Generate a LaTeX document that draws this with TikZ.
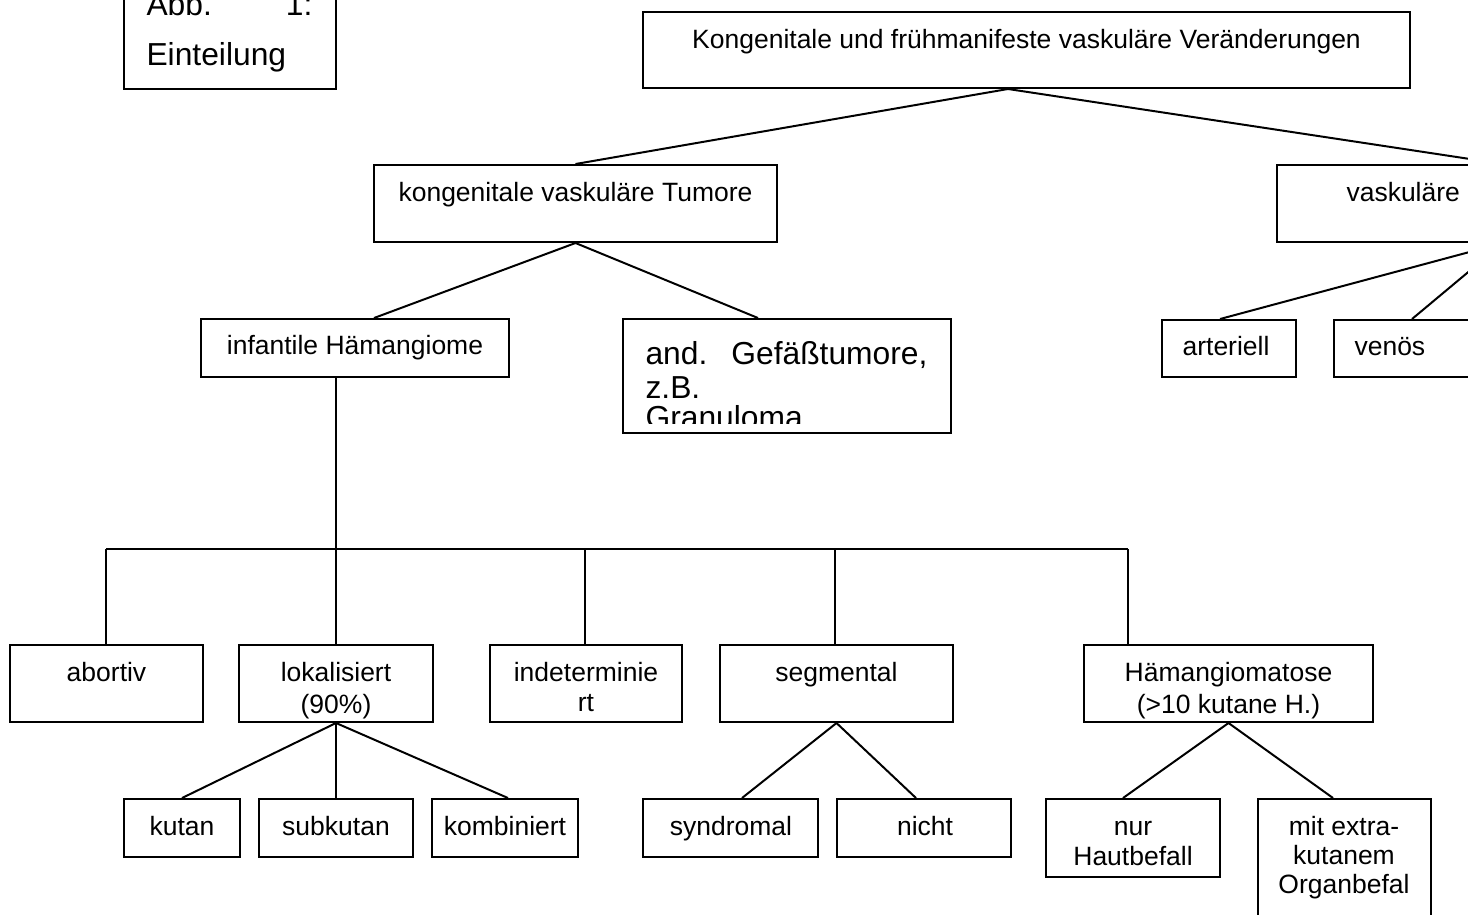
\documentclass[tikz,border=0pt]{standalone}
\usepackage{fontspec}
\setmainfont{Liberation Sans}
\usetikzlibrary{fit}
\newcommand\smf{\fontsize{10}{12}\selectfont}
\newcommand\bigf{\fontsize{12}{14}\selectfont}
\tikzset{
  box/.style={draw, line width=0.75pt, inner sep=0pt, rectangle},
  conn/.style={line width=0.75pt},
  txt/.style={inner sep=0pt, anchor=base, font=\smf},
  txtl/.style={inner sep=0pt, anchor=base west, font=\smf},
  btxtl/.style={inner sep=0pt, anchor=base west, font=\bigf},
  btxtr/.style={inner sep=0pt, anchor=base east, font=\bigf},
}
\begin{document}
\begin{tikzpicture}[x=0.3775pt, y=-0.3775pt]
\useasboundingbox (0,0) rectangle (1468,914);
\clip (0,0) rectangle (1468,914);
\fill[white] (0,0) rectangle (1468,914);

% boxes
\node[box, fit={(124,-10) (336,89)}] (abb) {};
\node[box, fit={(643,12) (1410,88)}] (top) {};
\node[box, fit={(374,165) (777,242)}] (kvt) {};
\node[box, fit={(1277,165) (1729,242)}] (vask) {};
\node[box, fit={(201,319) (509,377)}] (inf) {};
\node[box, fit={(623,319) (951,433)}] (and) {};
\node[box, fit={(1162,320) (1296,377)}] (art) {};
\node[box, fit={(1334,320) (1490,377)}] (ven) {};
\node[box, fit={(10,645) (203,722)}] (abo) {};
\node[box, fit={(239,645) (433,722)}] (lok) {};
\node[box, fit={(490,645) (682,722)}] (ind) {};
\node[box, fit={(720,645) (953,722)}] (seg) {};
\node[box, fit={(1084,645) (1373,722)}] (ham) {};
\node[box, fit={(124,799) (240,857)}] (kut) {};
\node[box, fit={(259,799) (413,857)}] (sub) {};
\node[box, fit={(432,799) (578,857)}] (kom) {};
\node[box, fit={(643,799) (818,857)}] (syn) {};
\node[box, fit={(837,799) (1011,857)}] (nic) {};
\node[box, fit={(1046,799) (1220,877)}] (nur) {};
\node[box, fit={(1258,799) (1431,960)}] (mit) {};

% connectors
\coordinate (topo) at (1008,0 |- top.south);
\draw[conn] (topo) -- (kvt.north);
\draw[conn] (topo) -- (vask.north);
\draw[conn] (kvt.south) -- (374,0 |- inf.north);
\draw[conn] (kvt.south) -- (758,0 |- and.north);
\draw[conn] (vask.south) -- (1220,0 |- art.north);
\draw[conn] (vask.south) -- (1412,0 |- ven.north);
\coordinate (busl) at (106,549);
\coordinate (busr) at (1128,549);
\coordinate (busm) at (336,549);
\draw[conn] (336,0 |- inf.south) -- (busm);
\draw[conn] (busl) -- (busr);
\draw[conn] (busl) -- (106,0 |- abo.north);
\draw[conn] (busm) -- (336,0 |- lok.north);
\draw[conn] (585,549) -- (585,0 |- ind.north);
\draw[conn] (835,549) -- (835,0 |- seg.north);
\draw[conn] (busr) -- (1128,0 |- ham.north);
\draw[conn] (lok.south) -- (182,0 |- kut.north);
\draw[conn] (lok.south) -- (336,0 |- sub.north);
\draw[conn] (lok.south) -- (508,0 |- kom.north);
\draw[conn] (seg.south) -- (742,0 |- syn.north);
\draw[conn] (seg.south) -- (916,0 |- nic.north);
\draw[conn] (ham.south) -- (1123,0 |- nur.north);
\draw[conn] (ham.south) -- (1333,0 |- mit.north);

% texts
\node[btxtl] (tabb) at (146,15) {Abb.};
\node[btxtr] (tone) at (313,15) {1:};
\node[btxtl] (tein) at (146,65) {Einteilung};
\node[txt] (ttop) at (1026.5,48) {Kongenitale und frühmanifeste vaskuläre Veränderungen};
\node[txt] (tkvt) at (575.5,201) {kongenitale vaskuläre Tumore};
\node[txtl] (tvask) at (1346,201) {vaskuläre};
\node[txt] (tinf) at (355,354) {infantile Hämangiome};
\node[txt] (tart) at (1226,355) {arteriell};
\node[txtl] (tven) at (1354,355) {venös};
\begin{scope}
\clip (625,321) rectangle (949,423);
\node[btxtl] (tand) at (645,364) {and.};
\node[btxtr] (tgef) at (928,364) {Gefäßtumore,};
\node[btxtl] (tzb) at (645,398) {z.B.};
\node[btxtl] (tgra) at (645,428) {Granuloma};
\end{scope}
\node[txt] (tabo) at (106.5,681) {abortiv};
\node[txt] (tlok) at (336,681) {lokalisiert};
\begin{scope}
\clip (241,647) rectangle (431,719);
\node[txt] (tlok2) at (336,713) {(90\%)};
\end{scope}
\node[txt] (tind) at (586,681) {indeterminie};
\node[txt] (tind2) at (586,711) {rt};
\node[txt] (tseg) at (836.5,681) {segmental};
\node[txt] (tham) at (1228.5,681) {Hämangiomatose};
\begin{scope}
\clip (1086,647) rectangle (1371,719);
\node[txt] (tham2) at (1228.5,713) {(>10 kutane H.)};
\end{scope}
\node[txt] (tkut) at (182,835) {kutan};
\node[txt] (tsub) at (336,835) {subkutan};
\node[txt] (tkom) at (505,835) {kombiniert};
\node[txt] (tsyn) at (731,835) {syndromal};
\node[txt] (tnic) at (925,835) {nicht};
\node[txt] (tnur) at (1133,835) {nur};
\node[txt] (tnur2) at (1133,865) {Hautbefall};
\node[txt] (tmit) at (1344,835) {mit extra-};
\node[txt] (tmit2) at (1344,864) {kutanem};
\node[txt] (tmit3) at (1344,893) {Organbefal};
\end{tikzpicture}
\end{document}
